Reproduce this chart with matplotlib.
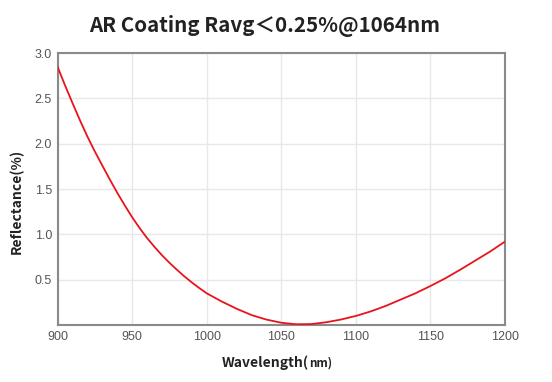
import matplotlib
matplotlib.use("Agg")
import matplotlib.pyplot as plt

wavelength = [900, 905, 910, 915, 920, 925, 930, 935, 940, 945, 950, 955, 960,
              965, 970, 975, 980, 985, 990, 995, 1000,
              1010, 1020, 1030, 1040, 1050, 1060, 1070, 1080, 1090, 1100,
              1110, 1120, 1130, 1140, 1150, 1160, 1170, 1180, 1190, 1200]
reflectance = [2.85, 2.645, 2.45, 2.26, 2.08, 1.915, 1.76, 1.607, 1.46, 1.322, 1.19, 1.07, 0.96,
               0.862, 0.77, 0.687, 0.61, 0.537, 0.47, 0.408, 0.35,
               0.26, 0.18, 0.11, 0.06, 0.025, 0.008, 0.01, 0.03, 0.06, 0.10,
               0.15, 0.21, 0.28, 0.35, 0.43, 0.515, 0.61, 0.71, 0.81, 0.92]
x_ticks = [900, 950, 1000, 1050, 1100, 1150, 1200]
y_ticks = [0.5, 1.0, 1.5, 2.0, 2.5, 3.0]

plt.rcParams['font.family'] = ['Noto Sans CJK SC', 'DejaVu Sans']

fig = plt.figure(figsize=(5.52, 3.82), dpi=100)
ax = fig.add_axes([57.5/552, 1-325/382, (505-57.5)/552, (325-53)/382])

ax.plot(wavelength, reflectance, color='#e8141c', lw=1.3, zorder=3,
        solid_joinstyle='round')
ax.set_xlim(900, 1200)
ax.set_ylim(0, 3.0)
ax.set_xticks(x_ticks)
ax.set_yticks(y_ticks)
ax.set_xticklabels([str(v) for v in x_ticks], family='Liberation Sans')
ax.set_yticklabels([f"{v:.1f}" for v in y_ticks], family='Liberation Sans')
ax.tick_params(length=0, labelsize=9, colors='#555555', pad=4)
ax.grid(True, color='#e8e8e8', lw=1.0)
ax.set_axisbelow(True)
for s in ax.spines.values():
    s.set_color('#8a8a8a')
    s.set_linewidth(1.5)

ax.set_ylabel('Reflectance(%)', fontsize=10, fontweight='bold', color='#222222')
ax.yaxis.set_label_coords(-0.074, 0.455)
fig.text(309/552, 1-367/382, 'Wavelength(', fontsize=10, fontweight='bold',
         color='#222222', ha='right', va='baseline')
fig.text(309.5/552, 1-367/382, 'nm)', fontsize=8.5, fontweight='bold',
         color='#222222', ha='left', va='baseline')

fig.text(265/552, 1-32/382, 'AR Coating Ravg\uff1c0.25%@1064nm', fontsize=14.8,
         fontweight='bold', color='#222222', ha='center', va='baseline')

fig.savefig('out.png', dpi=100)
